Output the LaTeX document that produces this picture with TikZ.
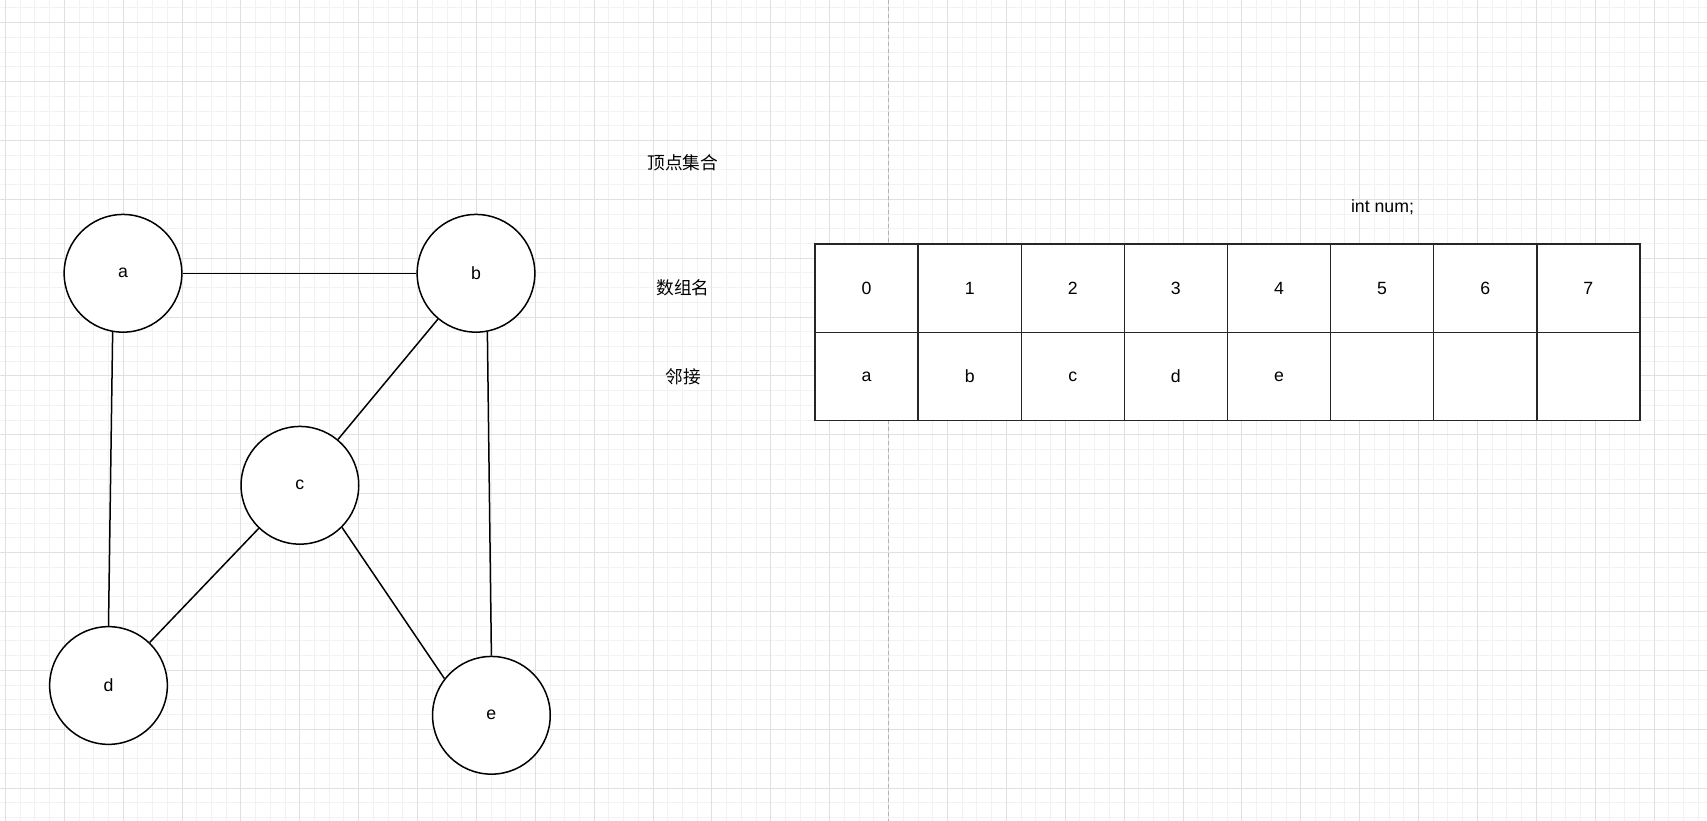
\documentclass[tikz,border=0pt]{standalone}
\usepackage{fontspec}
\setmainfont{Liberation Sans}
\newfontfamily\cjk{Noto Sans CJK SC}
\begin{document}
\begin{tikzpicture}[x=1pt, y=-1pt,
    every node/.style={font=\fontsize{17.7pt}{21pt}\selectfont},
    vertex/.style={draw, fill=white, circle, line width=1.5pt, minimum size=117.7pt, inner sep=0pt},
    cell/.style={fill=white, minimum width=103.1pt, minimum height=88.3pt, inner sep=0pt, outer sep=0pt},
    edge/.style={line width=1.5pt}]
    \fill[white] (0,0) rectangle (1707,821);
    \useasboundingbox (0,0) rectangle (1707,821);

    % grid
    \foreach \i in {0,...,115} \draw[black!5, line width=1pt] (5.4+\i*14.72,0) -- ++(0,821);
    \foreach \j in {0,...,55} \draw[black!5, line width=1pt] (0,7.98+\j*14.72) -- ++(1707,0);
    \foreach \i in {0,...,28} \draw[black!12, line width=1pt] (5.4+\i*58.88,0) -- ++(0,821);
    \foreach \j in {0,...,13} \draw[black!12, line width=1pt] (0,22.7+\j*58.88) -- ++(1707,0);
    \draw[black!30, line width=1pt, dash pattern=on 4pt off 3pt] (888.6,0) -- ++(0,821);

    % graph
    \node[vertex] (a) at (123,273.3) {a};
    \node[vertex] (b) at (476,273.3) {b};
    \node[vertex] (c) at (299.9,485.3) {c};
    \node[vertex] (d) at (108.5,685.5) {d};
    \node[vertex] (e) at (491.4,715.3) {e};

    \draw[edge] (a) -- (b);
    \draw[edge] (a.260) -- (d.north);
    \draw[edge] (b.281) -- (e.north);
    \draw[edge] (b) -- (c);
    \draw[edge] (c) -- (d);
    \draw[edge] (c.315) -- (e.142);

    % array
    \node (vset) at (682.8,162.7) {\cjk 顶点集合};
    \node (aname) at (683,288.1) {\cjk 数组名};
    \node (adj) at (683,376.4) {\cjk 邻接};
    \node (decl) at (1382.5,206.8) {int num;};

    \foreach \i/\t in {0/a,1/b,2/c,3/d,4/e,5/,6/,7/} {
        \node[cell] (idx\i) at (866.6+\i*103.1,288.1) {\i};
        \node[cell] (val\i) at (866.6+\i*103.1,376.4) {\t};
    }
    \foreach \i in {0,...,7} {
        \draw[edge, black!85] (idx\i.north west) rectangle (val\i.south east);
        \draw[edge, black!85] (idx\i.south west) -- (idx\i.south east);
    }
\end{tikzpicture}
\end{document}
